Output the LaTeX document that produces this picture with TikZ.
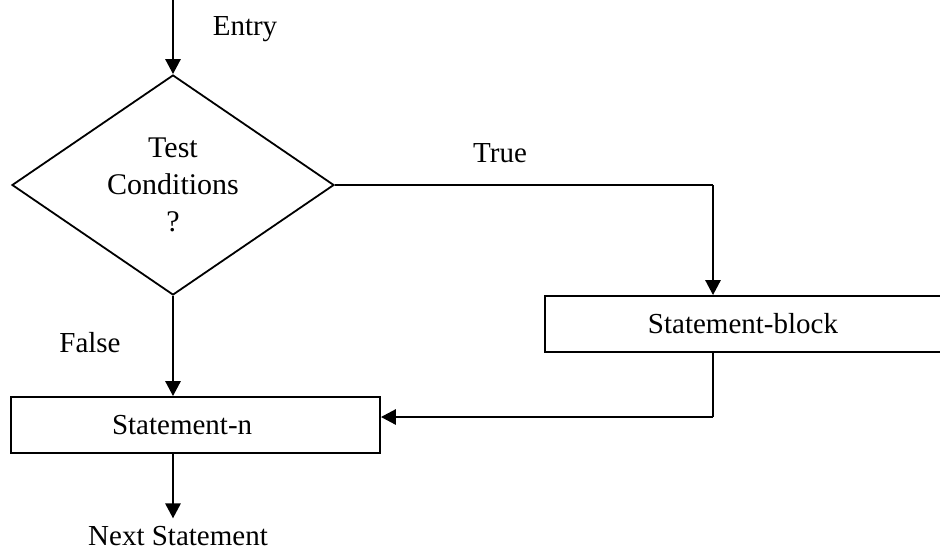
\documentclass[tikz,border=0pt]{standalone}
\usepackage{fontspec}
\setmainfont{Liberation Serif}
\usetikzlibrary{shapes.geometric,arrows.meta}

\begin{document}
\begin{tikzpicture}[x=0.5pt, y=-0.5pt,
  every node/.style={font=\fontsize{14.5}{18.5}\selectfont},
  decision/.style={draw, diamond, line width=0.9pt, inner sep=0pt, aspect=1.46,
    minimum width=161pt, minimum height=110pt, align=center},
  process/.style={draw, rectangle, line width=0.9pt, minimum height=28pt},
  flow/.style={-{Triangle[length=7.5pt,width=7.5pt]}, line width=1.4pt},
  link/.style={line width=1pt}]
\useasboundingbox (0,0) rectangle (940,552);

\node[decision, font=\fontsize{15}{18.5}\selectfont] (test) at (173,185) {Test\\Conditions\\?};
\node[process, text width=83.5pt, inner xsep=50.5pt, align=left] (stmtn) at (195.5,425) {Statement-n};
\node[process, minimum width=198pt] (block) at (743,324) {Statement-block};

\node[anchor=base] (entrylbl) at (245,35) {Entry};
\node[anchor=base] (truelbl) at (500,162) {True};
\node[anchor=base] (falselbl) at (90,352) {False};
\node[anchor=base, inner xsep=0pt, inner ysep=3.5pt] (next) at (178,545) {Next Statement};

\coordinate (entry) at (173,0);
\coordinate (tbend) at (713,185);
\coordinate (bbend) at (713,417);

\draw[flow] (entry) -- (test.north);
\draw[link] (test.east) -- (tbend);
\draw[flow] (tbend) -- (tbend |- block.north);
\draw[flow] (test.south) -- (test.south |- stmtn.north);
\draw[link] (bbend |- block.south) -- (bbend);
\draw[flow] (bbend) -- (bbend -| stmtn.east);
\draw[flow] (test.south |- stmtn.south) -- (test.south |- next.north);
\end{tikzpicture}
\end{document}
